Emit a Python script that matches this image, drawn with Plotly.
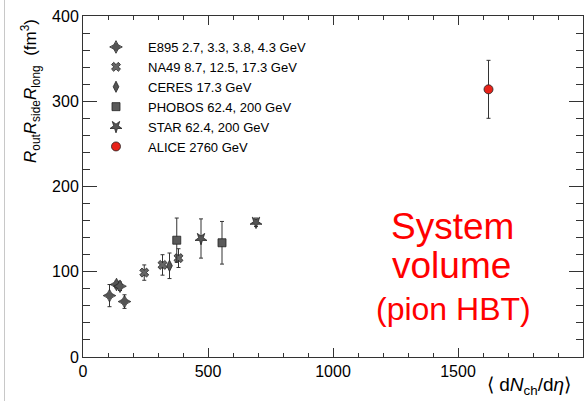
import plotly.graph_objects as go

# Pion HBT system volume vs charged-particle multiplicity
e895_x = [106, 134, 148, 166]
e895_y = [72, 85, 83, 65]
e895_err = [13, 4, 5, 8]

na49_x = [245, 318, 382]
na49_y = [99, 108, 116]
na49_err = [9, 12, 11]

ceres_x = [346]
ceres_y = [107]
ceres_err = [15]

phobos_x = [375, 556]
phobos_y = [137, 134]
phobos_err = [26, 25]

star_x = [472, 692]
star_y = [139, 158]
star_err = [23, 5]

alice_x = [1622]
alice_y = [314]
alice_err = [34]

series = [
    ("E895 2.7, 3.3, 3.8, 4.3 GeV", e895_x, e895_y, e895_err, "star-diamond", 9, "#555555", 0),
    ("NA49 8.7, 12.5, 17.3 GeV", na49_x, na49_y, na49_err, "x", 8, "#666666", 0),
    ("CERES 17.3 GeV", ceres_x, ceres_y, ceres_err, "diamond-tall", 8, "#555555", 0),
    ("PHOBOS 62.4, 200 GeV", phobos_x, phobos_y, phobos_err, "square", 8, "#5a5a5a", 0),
    ("STAR 62.4, 200 GeV", star_x, star_y, star_err, "star", 9, "#555555", 180),
    ("ALICE 2760 GeV", alice_x, alice_y, alice_err, "circle", 9, "#e8231a", 0),
]

FONT = "Liberation Sans, Arial, Helvetica, sans-serif"

fig = go.Figure()
for name, xs, ys, errs, sym, size, color, ang in series:
    fig.add_trace(go.Scatter(
        x=xs, y=ys, mode="markers", name=name,
        marker=dict(symbol=sym, size=size, color=color, angle=ang,
                    line=dict(color="#222222", width=0.8)),
        error_y=dict(type="data", array=errs, visible=True,
                     color="#333333", thickness=1, width=2),
    ))

W, H = 586, 401
L, R, T, B = 83, 3, 16, 44
pw = W - L - R
ph = H - T - B


def px_x(p):
    return (p - L) / pw


def px_y(p):
    return (H - B - p) / ph


axis_common = dict(
    showline=True, linecolor="#333333", linewidth=1, mirror="allticks",
    ticks="inside", tickcolor="#333333", showgrid=False, zeroline=False,
    tickfont=dict(family=FONT, size=16, color="black"),
)

fig.update_xaxes(range=[0, 2000], tickvals=[0, 500, 1000, 1500],
                 ticklen=9, minor=dict(ticks="inside", dtick=100, ticklen=4,
                                       tickcolor="#333333"),
                 **axis_common)
fig.update_yaxes(range=[0, 400], tickvals=[0, 100, 200, 300, 400],
                 ticklen=14, minor=dict(ticks="inside", dtick=20, ticklen=7,
                                        tickcolor="#333333"),
                 **axis_common)

annotations = [
    dict(text="<i>R</i><sub>out</sub><i>R</i><sub>side</sub><i>R</i><sub>long</sub>  (fm<sup>3</sup>)",
         textangle=-90, x=px_x(30), y=px_y(17), xanchor="center", yanchor="top",
         font=dict(family=FONT, size=17, color="black")),
    dict(text="\u27e8 d<i>N</i><sub>ch</sub>/d<i>\u03b7</i>\u27e9",
         x=px_x(573), y=px_y(386), xanchor="right", yanchor="middle",
         font=dict(family=FONT, size=19, color="black")),
    dict(text="System", x=px_x(452), y=px_y(226), xanchor="center", yanchor="middle",
         font=dict(family=FONT, size=37, color="#ff0000")),
    dict(text="volume", x=px_x(451), y=px_y(265), xanchor="center", yanchor="middle",
         font=dict(family=FONT, size=37, color="#ff0000")),
    dict(text="(pion HBT)", x=px_x(453), y=px_y(309), xanchor="center", yanchor="middle",
         font=dict(family=FONT, size=32, color="#ff0000")),
]
for a in annotations:
    a.update(xref="paper", yref="paper", showarrow=False)

fig.update_layout(
    width=W, height=H,
    margin=dict(l=L, r=R, t=T, b=B),
    paper_bgcolor="white", plot_bgcolor="white",
    font=dict(family=FONT, color="black"),
    annotations=annotations,
    showlegend=True,
    legend=dict(x=px_x(84), y=px_y(32), xanchor="left", yanchor="top",
                bgcolor="rgba(0,0,0,0)", borderwidth=0,
                font=dict(family=FONT, size=13, color="black"),
                itemwidth=54, tracegroupgap=0),
    shapes=[dict(type="line", xref="paper", yref="paper",
                 x0=px_x(4.5), x1=px_x(4.5), y0=px_y(0), y1=px_y(401),
                 line=dict(color="#c8c8c8", width=1))],
)

fig.write_html("out.html")
